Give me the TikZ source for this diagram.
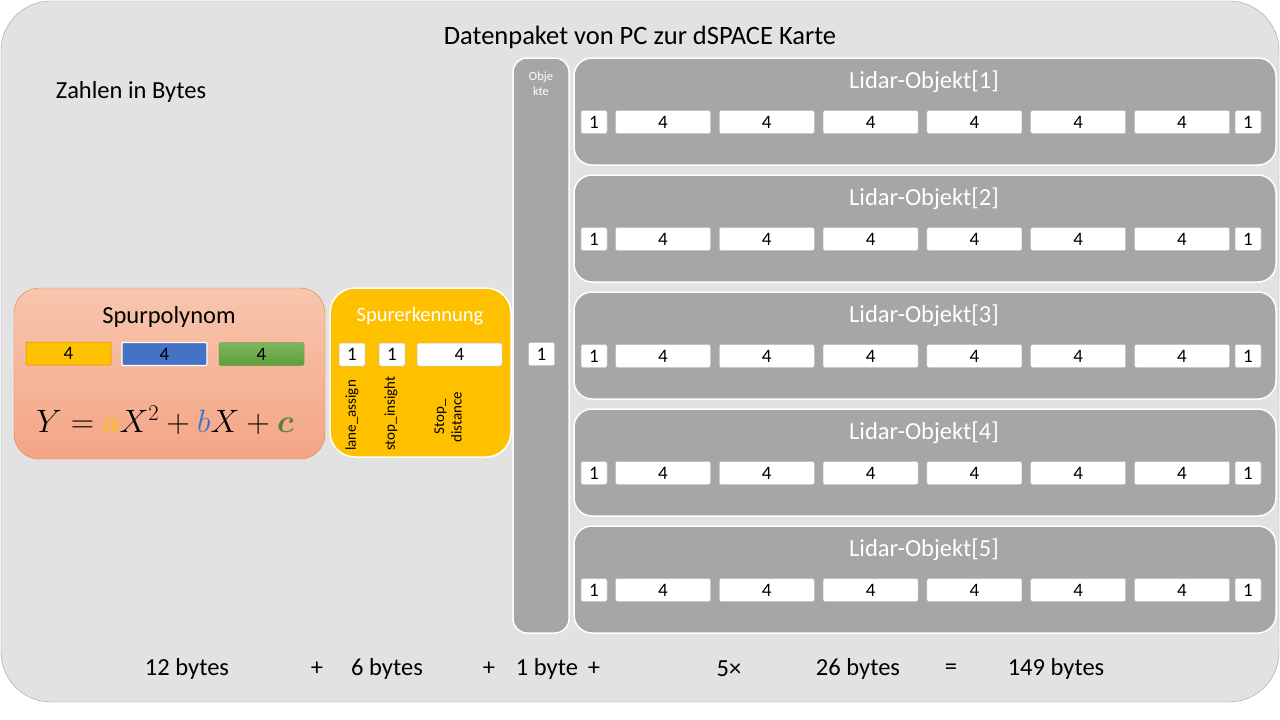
\documentclass[tikz,border=0pt]{standalone}
\usepackage{fontspec}
\usepackage{amsmath}
\usepackage{bm}
\setmainfont{Carlito}
\usetikzlibrary{positioning}

\definecolor{bggray}{HTML}{E2E2E2}
\definecolor{rimgray}{HTML}{A0A0A0}
\definecolor{objgray}{HTML}{A6A6A6}
\definecolor{polytop}{HTML}{F8C6AE}
\definecolor{polybot}{HTML}{F4A585}
\definecolor{polyrim}{HTML}{ED7D31}
\definecolor{laneyellow}{HTML}{FFC000}
\definecolor{laneyellowrim}{HTML}{C99700}
\definecolor{coefblue}{HTML}{4472C4}
\definecolor{greentop}{HTML}{7EB65C}
\definecolor{greenbot}{HTML}{5E9E3B}
\definecolor{cgreen}{HTML}{548235}

\newcommand\titlefont{\fontsize{26.5}{30}\selectfont}
\newcommand\headfont{\fontsize{24.5}{28}\selectfont}
\newcommand\fieldfont{\fontsize{19}{21}\selectfont}
\newcommand\labelfont{\fontsize{15}{17.5}\selectfont}
\newcommand\tinyfont{\fontsize{12.5}{15}\selectfont}

\tikzset{
  objbox/.style={draw=white, line width=1.5pt, fill=objgray, rounded corners=18pt},
  objtitle/.style={text=white, font=\headfont},
  smallfield/.style={draw=black!25, line width=.5pt, fill=white, rounded corners=2pt,
    minimum width=26pt, minimum height=23pt, inner sep=0pt, font=\fieldfont},
  widefield/.style={smallfield, minimum width=95pt},
  sumtext/.style={font=\headfont},
  vlabel/.style={rotate=90, font=\labelfont, inner sep=0pt},
}

\begin{document}
\begin{tikzpicture}[x=1pt, y=-1pt]
\useasboundingbox (0,0) rectangle (1280,720);

% outer frame
\draw[rimgray, fill=bggray, rounded corners=50pt]
  (1,1) rectangle (1279,702);
\node[font=\titlefont] (title) at (640,37) {Datenpaket von PC zur dSPACE Karte};
\node[font=\headfont] (unit) at (131,92) {Zahlen in Bytes};

% Spurpolynom
\draw[polyrim, top color=polytop, bottom color=polybot, rounded corners=25pt]
  (14,288) rectangle (325,459);
\node[font=\headfont] (poly) at (169,317) {Spurpolynom};
\node[smallfield, draw=laneyellowrim, fill=laneyellow, rounded corners=1pt,
  minimum width=85pt] (coefa) at (68.5,353.5) {4};
\node[smallfield, draw=white, line width=1.2pt, fill=coefblue, rounded corners=1pt,
  minimum width=85pt] (coefb) at (164.5,354) {4};
\node[smallfield, draw=greenbot, top color=greentop, bottom color=greenbot, rounded corners=2pt,
  minimum width=85pt] (coefc) at (261.5,354) {4};
\node[font=\fontsize{24}{28}\selectfont] (formula) at (165,420)
  {\scalebox{1.3}{$Y = {\color{laneyellow}a}X^2 + {\color{coefblue}b}X + {\color{cgreen}\bm{c}}$}};

% Spurerkennung
\draw[white, line width=1.5pt, fill=laneyellow, rounded corners=25pt]
  (330,288) rectangle (511,457);
\node[objtitle, font=\fontsize{20.5}{24}\selectfont] (lane) at (420,316) {Spurerkennung};
\node[smallfield] (assign) at (352,354.5) {1};
\node[smallfield] (insight) at (392,354.5) {1};
\node[widefield, minimum width=85pt] (dist) at (459.5,354.5) {4};
\node[vlabel, anchor=west] (assignlbl) at (352,451) {lane\_assign};
\node[vlabel, anchor=west] (insightlbl) at (391,451) {stop\_insight};
\node[vlabel, align=center] (distlbl) at (448,417) {Stop\_\\distance};

% Objekte
\draw[objbox, rounded corners=14pt] (513,58) rectangle (569,633);
\node[text=white, font=\tinyfont, align=center] (count) at (541,84) {Obje\\kte};
\node[smallfield] (countfield) at (541.5,354) {1};

% Lidar-Objekte
\foreach \k in {1,...,5}{
  \pgfmathsetmacro\ytop{58+117*(\k-1)}
  \draw[objbox] (574,\ytop) rectangle (1276,\ytop+107);
  \node[objtitle] (lidar\k) at (924,\ytop+24) {Lidar-Objekt[\k]};
  \node[smallfield] (lidar\k-first) at (594,\ytop+64) {1};
  \foreach \j in {1,...,6}
    \node[widefield] (lidar\k-f\j) at ({663+103.8*(\j-1)},\ytop+64) {4};
  \node[smallfield] (lidar\k-last) at (1248,\ytop+64) {1};
}

% summe
\node[sumtext] (sum1) at (187,669) {12 bytes};
\node[sumtext] (plus1) at (317,669) {+};
\node[sumtext] (sum2) at (387,669) {6 bytes};
\node[sumtext] (plus2) at (489,669) {+};
\node[sumtext] (sum3) at (547,669) {1 byte};
\node[sumtext] (plus3) at (594,669) {+};
\node[sumtext] (times) at (729,669) {5×};
\node[sumtext] (sum4) at (858,669) {26 bytes};
\node[sumtext] (equal) at (951,669) {=};
\node[sumtext] (total) at (1056,669) {149 bytes};
\end{tikzpicture}
\end{document}
